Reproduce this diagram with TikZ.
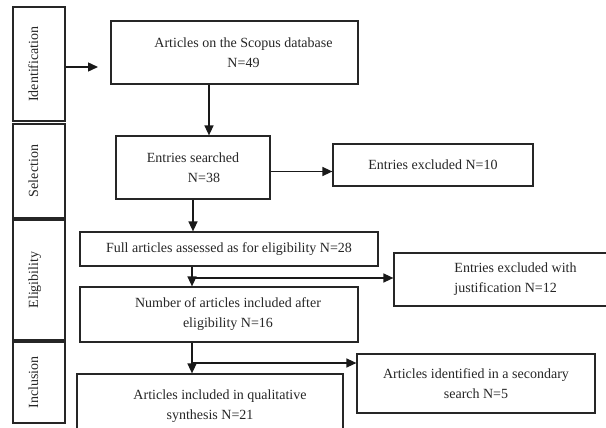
\documentclass[tikz,border=0pt]{standalone}
\usepackage{fontspec}
\setmainfont{Liberation Serif}
\usetikzlibrary{arrows.meta}
\newcommand{\sidelabel}[1]{\rotatebox{90}{\smash{\raisebox{1pt}{#1}}}}
\begin{document}
\begin{tikzpicture}[x=1pt,y=-1pt,
  box/.style={draw=black!85, line width=1.2pt, rectangle, inner sep=0pt, align=center,
    font=\fontsize{14}{20}\selectfont, text=black!85},
  side/.style={box, minimum width=52pt},
  arr/.style={line width=1.4pt, draw=black!90, -{Triangle[length=10pt,width=9pt]}},
  ln/.style={line width=1.4pt, draw=black!90}]
\useasboundingbox (0,0) rectangle (606,428);
\clip (0,0) rectangle (606,428);
\fill[white] (0,0) rectangle (606,428);
% stage boxes
\node[side, minimum height=114pt] (id)  at (39,64)    {\sidelabel{Identification}};
\node[side, minimum height=94pt]  (sel) at (39,171)   {\sidelabel{Selection}};
\node[side, minimum height=120pt] (eli) at (39,280)   {\sidelabel{Eligibility}};
\node[side, minimum height=81pt]  (inc) at (39,382.5) {\sidelabel{Inclusion}};
% flow boxes
\node[box, minimum width=247pt, minimum height=63pt] (b1) at (234.5,52.5)
  {\hspace*{18pt}Articles on the Scopus database\\\hspace*{18pt}N=49};
\node[box, minimum width=154pt, minimum height=63pt] (b2) at (193,167.5)
  {Entries searched\\\hspace*{22pt}N=38};
\node[box, minimum width=200pt, minimum height=42pt] (b3) at (433,165)
  {Entries excluded N=10};
\node[box, minimum width=298pt, minimum height=34pt] (b4) at (229,249)
  {Full articles assessed as for eligibility N=28};
\node[box, minimum width=278pt, minimum height=55pt] (b5) at (219,314.5)
  {\hspace*{18pt}Number of articles included after\\\hspace*{18pt}eligibility N=16};
\node[box, minimum width=243pt, minimum height=53pt, align=left] (b6) at (515.5,279.5)
  {Entries excluded with\\justification N=12};
\node[box, minimum width=266pt, minimum height=65pt] (b7) at (210,406.5)
  {\hspace*{20pt}Articles included in qualitative\\synthesis N=21};
\node[box, minimum width=238pt, minimum height=59pt] (b8) at (476,383.5)
  {Articles identified in a secondary\\search N=5};
% connectors
\coordinate (idtip) at (98,67);
\draw[arr] (id.east |- idtip) -- (idtip);
\draw[arr] ([xshift=-25.5pt]b1.south) -- ([xshift=-25.5pt]b1.south |- b2.north);
\draw[arr] ([yshift=-4pt]b2.east) -- ([yshift=-4pt]b2.east -| b3.west);
\draw[arr] (b2.south) -- (b2.south |- b4.north);
\draw[arr] ([xshift=-37pt]b4.south) -- ([xshift=-37pt]b4.south |- b5.north);
\coordinate (j1) at (192,278);
\draw[arr] (j1) -- (j1 -| b6.west);
\draw[arr] ([xshift=-27pt]b5.south) -- ([xshift=-27pt]b5.south |- b7.north);
\coordinate (j2) at (192,363);
\draw[arr] (j2) -- (j2 -| b8.west);
\end{tikzpicture}
\end{document}
